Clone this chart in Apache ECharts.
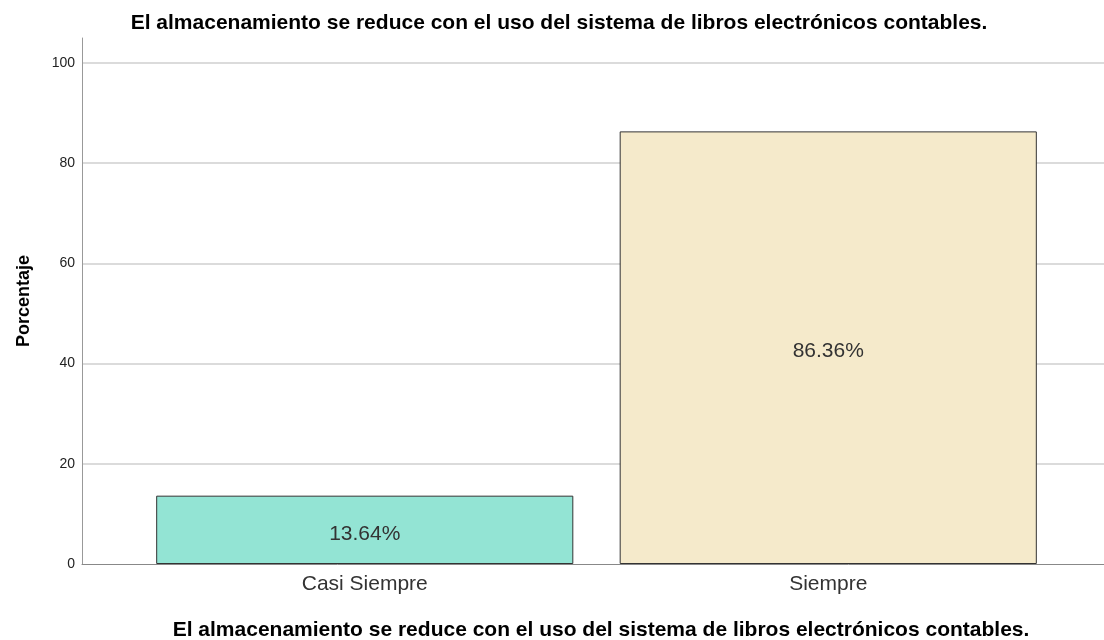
<!DOCTYPE html>
<html><head><meta charset="utf-8">
<script src="https://cdn.jsdelivr.net/npm/echarts@6/dist/echarts.min.js"></script>
<style>html,body{margin:0;padding:0;background:#fff}#c{width:1104px;height:640px}</style>
</head><body><div id="c"></div>
<script>
const titleText = 'El almacenamiento se reduce con el uso del sistema de libros electrónicos contables.';
const yAxisName = 'Porcentaje';
const categories = ['Casi Siempre', 'Siempre'];
const values = [13.64, 86.36];
const barColors = ['#93e4d4', '#f5eacb'];

const chart = echarts.init(document.getElementById('c'));
const font = 'Liberation Sans, Arial, sans-serif';
chart.setOption({
  animation: false,
  title: [
    {text: titleText, left: 554, top: 8, textAlign: 'center',
     textStyle: {fontFamily: font, fontSize: 21, fontWeight: 'bold', color: '#000'}},
    {text: titleText, left: 596, top: 615, textAlign: 'center',
     textStyle: {fontFamily: font, fontSize: 21, fontWeight: 'bold', color: '#000'}}
  ],
  grid: [
    {left: 82, right: 0, top: 38, bottom: 76},
    {left: 133, width: 927, top: 38, bottom: 76}
  ],
  xAxis: [
    {type: 'category', gridIndex: 0, data: categories,
     axisLine: {lineStyle: {color: '#888', width: 1}}, axisTick: {show: false},
     axisLabel: {show: false}},
    {type: 'category', gridIndex: 1, data: categories,
     axisLine: {show: false}, axisTick: {show: false},
     axisLabel: {fontFamily: font, fontSize: 21, color: '#333', margin: 10}}
  ],
  yAxis: [
    {type: 'value', gridIndex: 0, min: 0, max: 105, interval: 20,
     name: yAxisName, nameLocation: 'middle', nameGap: 49, nameRotate: 90,
     nameTextStyle: {fontFamily: font, fontSize: 18, fontWeight: 'bold', color: '#000'},
     axisLine: {show: true, lineStyle: {color: '#999', width: 1}}, axisTick: {show: false},
     axisLabel: {fontFamily: font, fontSize: 14, color: '#222', margin: 7, showMaxLabel: false},
     splitLine: {show: true, showMinLine: false, showMaxLine: false, lineStyle: {color: '#cfcfcf', width: 1.5}}},
    {type: 'value', gridIndex: 1, min: 0, max: 105, interval: 20, show: false, splitLine: {show: false}}
  ],
  series: [{
    type: 'bar', xAxisIndex: 1, yAxisIndex: 1,
    barWidth: '90%',
    data: values.map((v, i) => ({value: v, itemStyle: {color: barColors[i]}})),
    itemStyle: {borderColor: '#333', borderWidth: 1},
    label: {show: true, position: 'inside', offset: [0, 4], fontFamily: font, fontSize: 21, color: '#333',
      formatter: p => p.value.toFixed(2) + '%'}
  }]
});
</script></body></html>
